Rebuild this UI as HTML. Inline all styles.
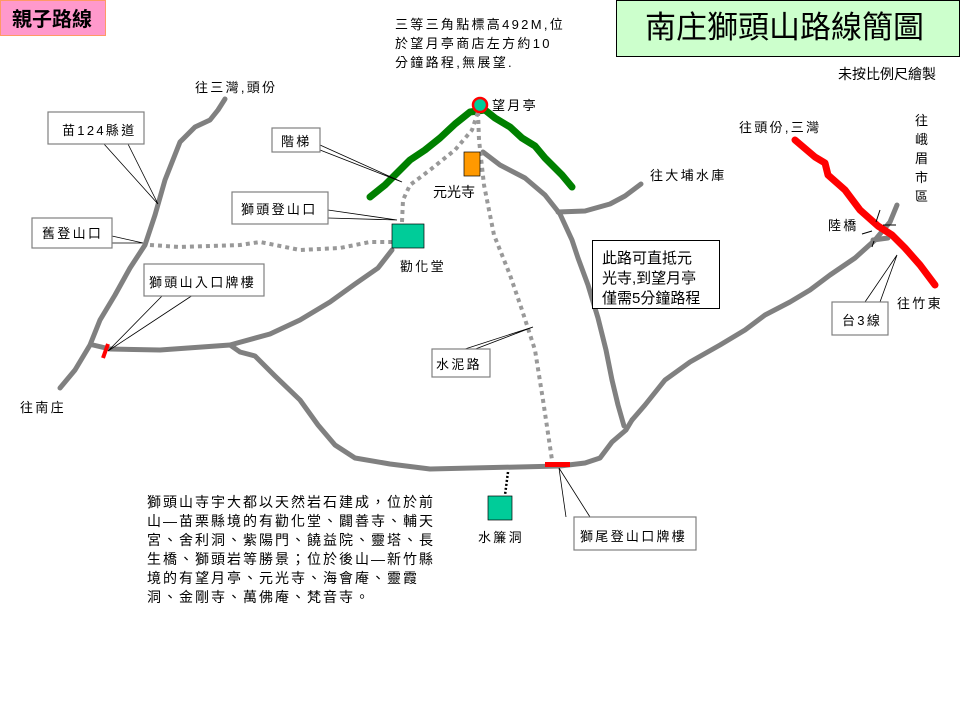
<!DOCTYPE html>
<html><head><meta charset="utf-8"><style>
body{margin:0;background:#fff;}
svg{display:block;font-family:"Liberation Sans","Noto Sans CJK TC",sans-serif;}
.t{font-size:13px;fill:#000;letter-spacing:2.3px;}
</style></head><body>
<svg width="960" height="720" viewBox="0 0 960 720" xmlns="http://www.w3.org/2000/svg">
<rect x="0" y="0" width="960" height="720" fill="#fff"/>
<rect x="0.5" y="0.5" width="105" height="35" fill="#ff99cc" stroke="#ff9966" stroke-width="1"/>
<text x="12" y="26" font-size="20" font-weight="bold">親子路線</text>
<rect x="616.5" y="0.5" width="343" height="56" fill="#ccffcc" stroke="#000" stroke-width="1"/>
<text x="645" y="38" font-size="31">南庄獅頭山路線簡圖</text>
<text x="838" y="79" font-size="14">未按比例尺繪製</text>
<text class="t" x="395" y="29">三等三角點標高492M,位</text>
<text class="t" x="395" y="48">於望月亭商店左方約10</text>
<text class="t" x="395" y="67">分鐘路程,無展望.</text>

<g fill="none" stroke="#808080" stroke-width="5" stroke-linecap="round" stroke-linejoin="round">
<path d="M60,388 L75,370 L90,345 L100,320 L115,295 L130,268 L145,245 L155,215 L165,180 L180,142 L195,127 L210,120 L218,110 L225,99"/>
<path d="M93,345 L110,349 L160,350 L230,345 L270,334 L300,320 L330,302 L355,284 L378,268 L392,250"/>
<path d="M230,345 L240,352 L255,356 L275,376 L300,400 L318,425 L335,445 L355,458 L390,464 L430,469 L560,466 L585,463 L600,458 L612,442 L626,430 L632,420"/>
<path d="M483,152 L500,165 L525,178 L545,195 L560,214 L572,240 L578,258 L588,285 L598,318 L606,350 L612,380 L618,405 L624,426"/>
<path d="M558,212 L585,211 L610,204 L625,196 L641,184"/>
<path d="M632,420 L645,405 L665,380 L690,362 L720,345 L745,330 L765,315 L790,302 L810,290 L830,275 L855,258 L875,240 L890,222 L897,205"/>
<path d="M873,240 L888,238" />
</g>
<path d="M795,140 L815,157 L825,163 L828,175 L845,190 L860,210 L878,226 L892,235 L905,248 L920,265 L935,285" fill="none" stroke="#ff0000" stroke-width="7" stroke-linecap="round" stroke-linejoin="round"/>
<g stroke="#000" stroke-width="1">
<line x1="880" y1="210" x2="876" y2="222"/><line x1="883" y1="225" x2="896" y2="225"/>
<line x1="874" y1="241" x2="872" y2="247"/><line x1="862" y1="234" x2="872" y2="231"/>
</g>
<path d="M370,197 L385,185 L398,172 L410,160 L425,150 L440,138 L455,124 L470,112 L485,110 L495,118 L510,127 L522,138 L535,146 L545,158 L555,168 L562,175 L572,187" fill="none" stroke="#008000" stroke-width="7" stroke-linecap="round" stroke-linejoin="round"/>
<g fill="none" stroke="#999" stroke-width="4" stroke-dasharray="4,4">
<path d="M402,222 L403,200 L410,185 L430,170 L455,150 L472,130 L478,112"/>
<path d="M478,112 L479,140 L484,185 L494,235 L510,275 L522,310 L535,350 L543,400 L552,460"/>
<path d="M150,245 L180,247 L240,245 L260,242 L300,250 L340,248 L370,242 L392,242"/>
</g>
<path d="M508,472 L505,495" stroke="#000" stroke-width="2.5" stroke-dasharray="2,2"/>
<line x1="103" y1="358" x2="108" y2="344" stroke="#f00" stroke-width="4"/>
<rect x="545" y="462" width="25" height="5" fill="#f00"/>
<rect x="392" y="224" width="32" height="24" fill="#00cc99" stroke="#000" stroke-width="0.7"/>
<rect x="488" y="496" width="24" height="24" fill="#00cc99" stroke="#000" stroke-width="0.7"/>
<rect x="464" y="152" width="16" height="24" fill="#ff9900" stroke="#000" stroke-width="0.7"/>
<circle cx="480" cy="105" r="7" fill="#00cc99" stroke="#f00" stroke-width="2.5"/>
<g stroke="#000" stroke-width="0.8" fill="none">
<path d="M104,144 L158,204 L128,144"/>
<path d="M112,236 L143,243 L112,243"/>
<path d="M320,145 L402,182 L320,150"/>
<path d="M328,210 L397,220 L328,218"/>
<path d="M163,295 L108,351 L193,295"/>
<path d="M465,349 L533,327 L465,353"/>
<path d="M566,517 L559,468 L590,517"/>
<path d="M865,302 L897,255 L880,302"/>
</g>
<g fill="#fff" stroke="#808080" stroke-width="1.2">
<rect x="48" y="112" width="96" height="32"/>
<rect x="32" y="218" width="80" height="30"/>
<rect x="272" y="128" width="48" height="24"/>
<rect x="232" y="192" width="96" height="32"/>
<rect x="144" y="264" width="120" height="32"/>
<rect x="432" y="349" width="58" height="28"/>
<rect x="574" y="517" width="122" height="33"/>
<rect x="832" y="302" width="56" height="33"/>
</g>
<rect x="592.5" y="240.5" width="127" height="68" fill="#fff" stroke="#000" stroke-width="1"/>
<text class="t" x="62" y="135">苗124縣道</text>
<text class="t" x="42" y="238">舊登山口</text>
<text class="t" x="281" y="146">階梯</text>
<text class="t" x="241" y="214">獅頭登山口</text>
<text class="t" x="149" y="287">獅頭山入口牌樓</text>
<text class="t" x="436" y="369">水泥路</text>
<text class="t" x="580" y="541">獅尾登山口牌樓</text>
<text class="t" x="842" y="325">台3線</text>
<text x="602" y="263" font-size="15">此路可直抵元</text>
<text x="602" y="283" font-size="15">光寺,到望月亭</text>
<text x="602" y="303" font-size="15">僅需5分鐘路程</text>
<text class="t" x="195" y="92">往三灣,頭份</text>
<text class="t" x="20" y="412">往南庄</text>
<text class="t" x="400" y="271">勸化堂</text>
<text x="433" y="197" font-size="14">元光寺</text>
<text class="t" x="492" y="110">望月亭</text>
<text class="t" x="650" y="180">往大埔水庫</text>
<text class="t" x="739" y="132">往頭份,三灣</text>
<text class="t" x="828" y="230">陸橋</text>
<text class="t" x="897" y="308">往竹東</text>
<text class="t" x="915" y="125">往</text>
<text class="t" x="915" y="144">峨</text>
<text class="t" x="915" y="163">眉</text>
<text class="t" x="915" y="182">市</text>
<text class="t" x="915" y="201">區</text>
<text class="t" x="478" y="542">水簾洞</text>
<g font-size="14" letter-spacing="2">
<text x="147" y="507">獅頭山寺宇大都以天然岩石建成，位於前</text>
<text x="147" y="526">山—苗栗縣境的有勸化堂、闢善寺、輔天</text>
<text x="147" y="545">宮、舍利洞、紫陽門、饒益院、靈塔、長</text>
<text x="147" y="564">生橋、獅頭岩等勝景；位於後山—新竹縣</text>
<text x="147" y="583">境的有望月亭、元光寺、海會庵、靈霞</text>
<text x="147" y="602">洞、金剛寺、萬佛庵、梵音寺。</text>
</g>
</svg>
</body></html>
